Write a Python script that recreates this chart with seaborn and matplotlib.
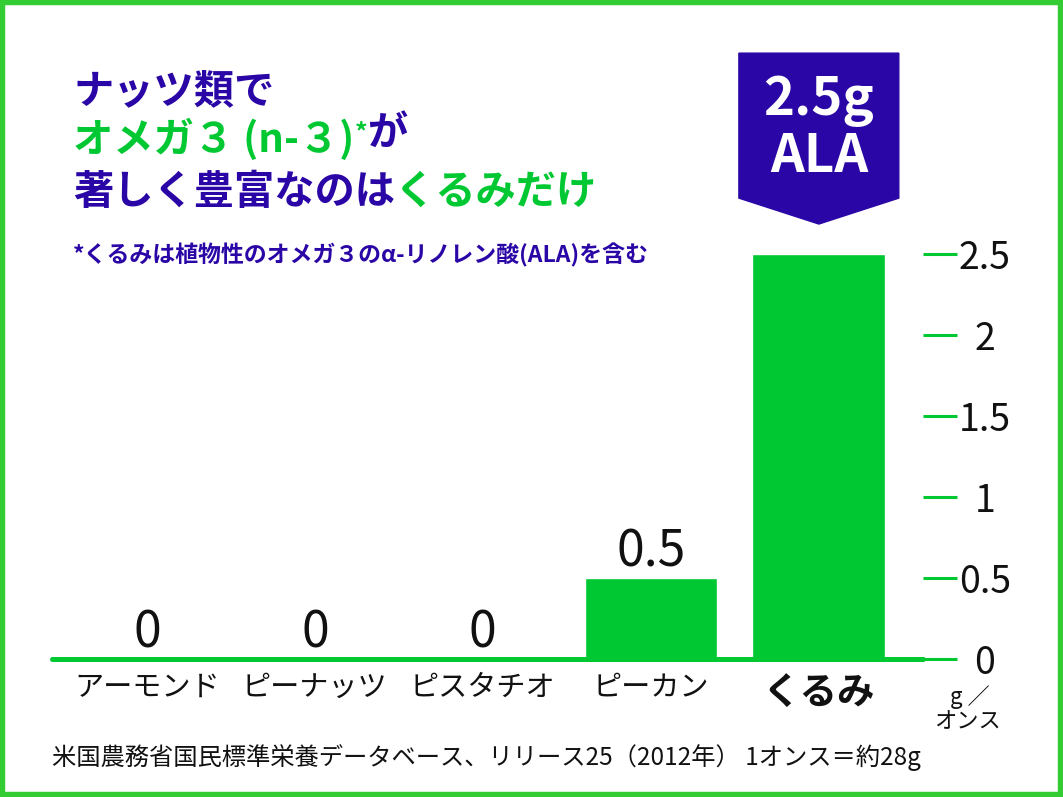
import matplotlib
matplotlib.use("Agg")
import matplotlib.pyplot as plt
import matplotlib.transforms as mtransforms
from matplotlib.patches import Polygon, Rectangle
import seaborn as sns

# data
nuts = ['アーモンド', 'ピーナッツ', 'ピスタチオ', 'ピーカン', 'くるみ']
ala_g = [0, 0, 0, 0.5, 2.5]
y_ticks = [0, 0.5, 1, 1.5, 2, 2.5]

GREEN = '#00c832'
BORDER = '#33cc33'
BLUE = '#2a06a6'
INK = '#111111'


def main():
    sns.set_theme(style='white')
    plt.rcParams['font.family'] = ['Noto Sans CJK JP', 'DejaVu Sans']

    fig = plt.figure(figsize=(10.63, 7.97), dpi=100)
    ax = fig.add_axes([0.0489, 0.1732, 0.8194, 0.5081])
    ax.set_facecolor('none')

    sns.barplot(x=nuts, y=ala_g, color=GREEN, saturation=1, width=0.79, ax=ax)
    ax.set_xlim(-0.565, 4.62)
    ax.set_ylim(0, 2.5)
    for s in ax.spines.values():
        s.set_visible(False)
    ax.axhline(0, color=GREEN, lw=3.6, clip_on=False, zorder=3)

    # value labels (walnut gets the banner instead)
    for i, v in enumerate(ala_g[:-1]):
        ax.annotate(f'{v:g}', xy=(i, v), xytext=(0, 18), textcoords='offset points',
                    ha='center', va='center', fontsize=36, color=INK)

    # y axis on the right, green tick marks
    ax.yaxis.tick_right()
    ax.set_yticks(y_ticks)
    ax.set_yticklabels([f'{t:g}' for t in y_ticks])
    ax.tick_params(axis='y', length=24.5, width=2.2, color=GREEN, labelsize=27,
                   labelcolor=INK, pad=20, right=True)
    for lbl in ax.get_yticklabels():
        lbl.set_ha('center')
    ax.tick_params(axis='x', length=0, pad=10, labelsize=21, labelcolor=INK)
    for lbl in ax.get_xticklabels():
        if lbl.get_text() == nuts[-1]:
            lbl.set_fontsize(27)
            lbl.set_fontweight('bold')
    ax.set_xlabel('')
    ax.set_ylabel('')

    # banner over the walnut bar
    idx = len(nuts) - 1
    w = 0.476
    blend = mtransforms.blended_transform_factory(ax.transData, ax.transAxes)
    banner = Polygon([(idx - w, 1.496), (idx + w, 1.496), (idx + w, 1.138),
                      (idx, 1.074), (idx - w, 1.138)], closed=True,
                     transform=blend, color=BLUE, clip_on=False, zorder=4)
    ax.add_patch(banner)
    ax.text(idx, 1.380, f'{ala_g[-1]:g}g', transform=blend, ha='center', va='center',
            color='white', fontsize=38, fontweight='bold', zorder=5)
    ax.text(idx, 1.240, 'ALA', transform=blend, ha='center', va='center',
            color='white', fontsize=38, fontweight='bold', zorder=5)

    # title, mixed colours
    tx = 0.0687
    kw = dict(fontsize=29, fontweight='bold')
    fig.text(tx, 0.8846, 'ナッツ類で', color=BLUE, va='center', **kw)
    t2 = fig.text(tx, 0.8243, 'オメガ３ (n-３)', color=GREEN, va='center', **kw)
    t2s = ax.annotate('*', xy=(1, 0.95), xycoords=t2, va='top', ha='left',
                      color=GREEN, fontsize=18, fontweight='bold')
    ax.annotate('が', xy=(1, 0.5), xycoords=t2s, va='center', ha='left',
                color=BLUE, **kw)
    t3 = fig.text(tx, 0.759, '著しく豊富なのは', color=BLUE, va='center', **kw)
    ax.annotate('くるみだけ', xy=(1, 0), xycoords=t3, va='bottom', ha='left',
                color=GREEN, **kw)
    fig.text(tx, 0.680, '*くるみは植物性のオメガ３のα-リノレン酸(ALA)を含む',
             color=BLUE, va='center', fontsize=16.5, fontweight='bold')

    # unit and source
    fig.text(0.912, 0.125, 'g ／', ha='center', va='center', fontsize=16, color=INK)
    fig.text(0.910, 0.094, 'オンス', ha='center', va='center', fontsize=16, color=INK)
    fig.text(0.049, 0.050, '米国農務省国民標準栄養データベース、リリース25（2012年） 1オンス＝約28g',
             ha='left', va='center', fontsize=17.5, color=INK)

    fig.add_artist(Rectangle((0, 0), 1, 1, transform=fig.transFigure, fill=False,
                             lw=7.5, ec=BORDER))

    fig.savefig('out.png', dpi=100)


if __name__ == '__main__':
    main()
